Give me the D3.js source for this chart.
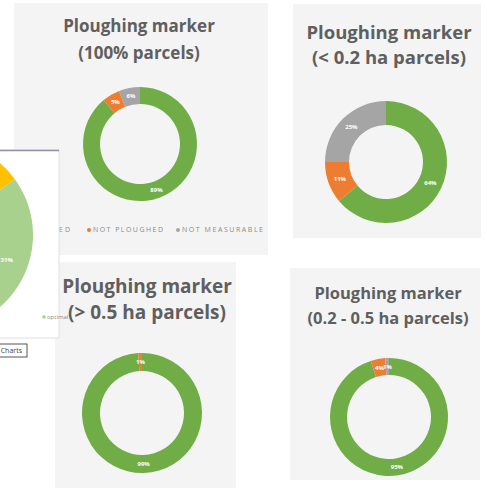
<!DOCTYPE html>
<html>
<head>
<meta charset="utf-8">
<script src="https://cdn.jsdelivr.net/npm/d3@7"></script>
<style>
  html, body { margin: 0; padding: 0; background: #ffffff; }
  svg { display: block; }
</style>
</head>
<body>
<svg id="chart" width="487" height="488"></svg>
<script>
// Ploughing marker outcome categories and their colours
const categories = ["PLOUGHED", "NOT PLOUGHED", "NOT MEASURABLE"];
const categoryColors = ["#70ad47", "#ed7d31", "#a5a5a5"];

// Share of parcels (%) per category, by parcel-size group
const allParcels = [89, 5, 6];
const under02ha = [64, 11, 25];
const over05ha = [99, 1, 0];
const from02to05ha = [95, 4, 1];

const titleLine1 = "Ploughing marker";
const titleLines2 = ["(100% parcels)", "(< 0.2 ha parcels)", "(> 0.5 ha parcels)", "(0.2 - 0.5 ha parcels)"];

// Partly visible summary pie on the left edge
const summaryValues = [15, 31];
const summaryColors = ["#ffc000", "#a9d18e"];
const summaryLegend = "optimal";
const summaryButton = "Charts";

const svg = d3.select("#chart");
const font = "'Open Sans', 'DejaVu Sans', sans-serif";

// Each card: background box, title, donut geometry
const cards = [
  { values: allParcels, title: titleLines2[0], box: [14, 3, 254, 252], cx: 140, cy: 144, ro: 57, ri: 40,
    tx: 139, ty1: 32, ty2: 59, fs: 17, legend: true },
  { values: under02ha, title: titleLines2[1], box: [293, 4, 188, 234], cx: 386, cy: 162, ro: 61, ri: 37,
    tx: 389, ty1: 39, ty2: 64, fs: 18.5 },
  { values: over05ha, title: titleLines2[2], box: [55, 262, 181, 226], cx: 142, cy: 413, ro: 60, ri: 42,
    tx: 147, ty1: 293, ty2: 319, fs: 19 },
  { values: from02to05ha, title: titleLines2[3], box: [290, 268, 190, 212], cx: 389, cy: 417, ro: 59, ri: 42,
    tx: 388, ty1: 299, ty2: 324, fs: 16.5 }
];

const pie = d3.pie().sort(null).value(d => d.v);

cards.forEach((c) => {
  const g = svg.append("g");
  g.append("rect")
    .attr("x", c.box[0]).attr("y", c.box[1])
    .attr("width", c.box[2]).attr("height", c.box[3])
    .attr("fill", "#f4f4f4");

  [titleLine1, c.title].forEach((line, k) => {
    g.append("text")
      .attr("x", c.tx).attr("y", k === 0 ? c.ty1 : c.ty2)
      .attr("text-anchor", "middle")
      .attr("font-family", font).attr("font-weight", 700)
      .attr("font-size", c.fs).attr("fill", "#5f5f5f")
      .text(line);
  });

  const data = c.values.map((v, i) => ({ v, i })).filter(d => d.v > 0);
  const arcs = pie(data);
  const arc = d3.arc().innerRadius(c.ri).outerRadius(c.ro);
  const dg = g.append("g").attr("transform", `translate(${c.cx},${c.cy})`);
  dg.selectAll("path").data(arcs).join("path")
    .attr("d", arc)
    .attr("fill", d => categoryColors[d.data.i]);
  dg.selectAll("text").data(arcs).join("text")
    .attr("transform", d => `translate(${arc.centroid(d)})`)
    .attr("text-anchor", "middle")
    .attr("dy", "0.35em")
    .attr("font-family", font).attr("font-weight", 700)
    .attr("font-size", 6).attr("fill", "#ffffff")
    .text(d => d.data.v + "%");

  if (c.legend) {
    // legend row along the bottom of the card
    const lg = g.append("g").attr("transform", "translate(0,230)");
    const items = [
      { x: 17, w: 53 },
      { x: 93, w: 70 },
      { x: 182, w: 81 }
    ];
    categories.forEach((name, i) => {
      lg.append("circle").attr("cx", items[i].x - 4).attr("cy", 0).attr("r", 2)
        .attr("fill", categoryColors[i]);
      lg.append("text").attr("x", items[i].x).attr("y", 0).attr("dy", "0.35em")
        .attr("font-family", font).attr("font-size", 7)
        .attr("textLength", items[i].w).attr("lengthAdjust", "spacing")
        .attr("fill", "#8a8a8a")
        .text(name);
    });
  }
});

// Summary card overlapping the left edge
const sg = svg.append("g");
sg.append("rect").attr("x", -2).attr("y", 150).attr("width", 61).attr("height", 188)
  .attr("fill", "#ffffff").attr("stroke", "#e0e0e0");
sg.append("line").attr("x1", 0).attr("x2", 59).attr("y1", 150.5).attr("y2", 150.5)
  .attr("stroke", "#8f8fa6").attr("stroke-width", 1.5);
const sArc = d3.arc().innerRadius(0).outerRadius(95);
const sPie = d3.pie().sort(null).startAngle(0).endAngle(2 * Math.PI * 0.46);
const sArcs = sPie(summaryValues);
const sp = sg.append("g").attr("transform", "translate(-62,235)");
sp.selectAll("path").data(sArcs).join("path")
  .attr("d", sArc).attr("fill", (d, i) => summaryColors[i]);
const labelArc = d3.arc().innerRadius(73).outerRadius(73);
sp.append("text")
  .attr("transform", `translate(${labelArc.centroid(sArcs[1])})`)
  .attr("text-anchor", "middle").attr("dy", "0.35em")
  .attr("font-family", font).attr("font-weight", 700).attr("font-size", 6)
  .attr("fill", "#ffffff")
  .text(summaryValues[1] + "%");
sg.append("circle").attr("cx", 44).attr("cy", 317).attr("r", 1.8).attr("fill", summaryColors[1]);
sg.append("text").attr("x", 47).attr("y", 317).attr("dy", "0.35em")
  .attr("font-family", font).attr("font-size", 6).attr("fill", "#8a8a8a")
  .text(summaryLegend);
sg.append("rect").attr("x", -10).attr("y", 344).attr("width", 37).attr("height", 13)
  .attr("fill", "#ffffff").attr("stroke", "#555555").attr("stroke-width", 1);
sg.append("text").attr("x", 22).attr("y", 350.5).attr("dy", "0.35em")
  .attr("text-anchor", "end")
  .attr("font-family", font).attr("font-size", 7).attr("fill", "#444444")
  .text(summaryButton);
</script>
</body>
</html>
